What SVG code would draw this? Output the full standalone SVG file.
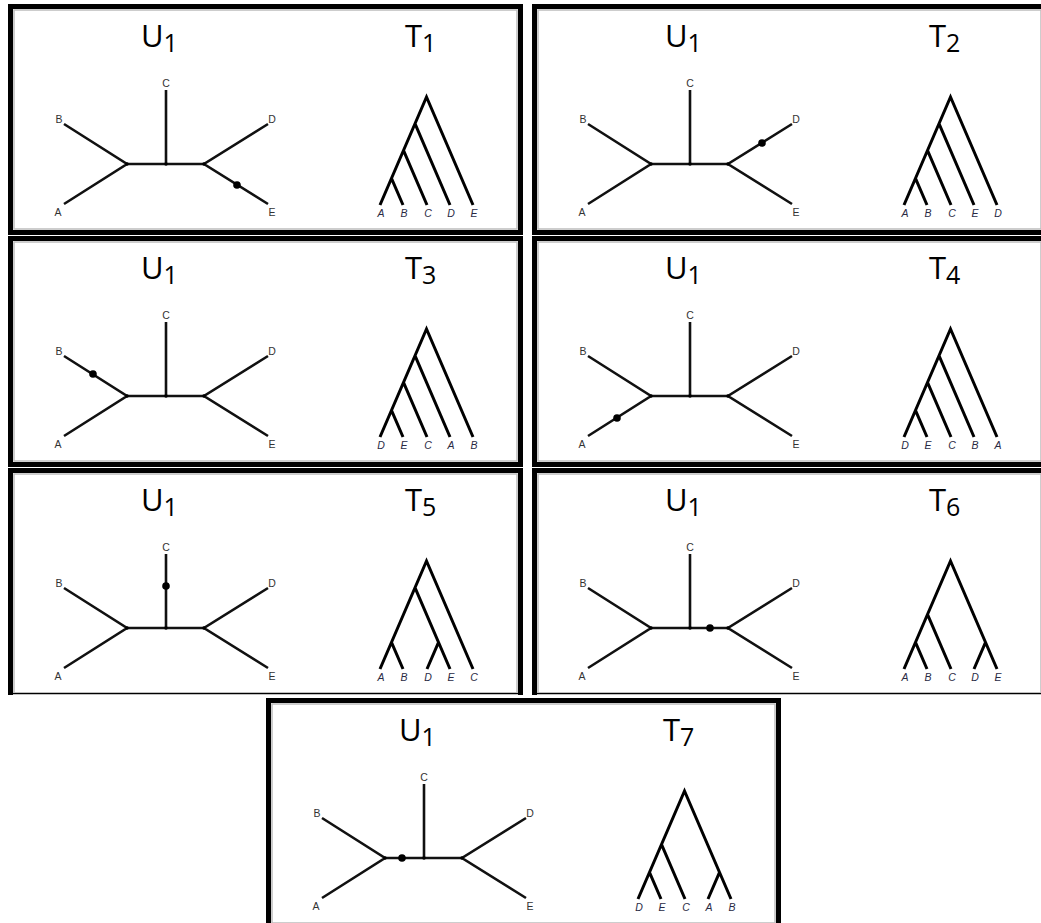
<svg xmlns="http://www.w3.org/2000/svg" width="1041" height="923" viewBox="0 0 1041 923">
<style>
.frame{fill:none;stroke:#000;stroke-width:5}
.inner{fill:none;stroke:#bdbdbd;stroke-width:1.5}
.ue{fill:none;stroke:#111;stroke-width:2.6;stroke-linejoin:miter}
.re{fill:none;stroke:#000;stroke-width:3;stroke-linejoin:miter}
.ul{font-family:"Liberation Sans",Arial,sans-serif;font-size:10.5px;fill:#333;text-anchor:middle}
.rl{font-family:"Liberation Sans",Arial,sans-serif;font-size:10.5px;font-style:italic;fill:#2a2a44;text-anchor:middle}
.title{font-family:"Open Sans",sans-serif;font-size:31px;fill:#000}
.dot{fill:#000}
</style>
<defs>
<g id="frame">
<rect class="frame" x="10.5" y="6.5" width="510" height="226"/>
<rect class="inner" x="14" y="10" width="503" height="219"/>
</g>
<g id="frame3">
<path class="frame" d="M10.5,231 V6.5 H520.5 V231"/>
<path d="M8,229.5 H523" stroke="#000" stroke-width="1.5"/>
<path class="inner" d="M14,229 V10 H517 V229"/>
</g>
<g id="utree">
<g class="connectors">
<path class="ue" d="M64,124 L127,164 L64,204"/>
<path class="ue" d="M127,164 H204"/>
<path class="ue" d="M268,124 L204,164 L268,204"/>
<path class="ue" d="M166,90 V164"/>
<circle class="dot" cx="127" cy="164" r="1.8"/>
<circle class="dot" cx="166" cy="164" r="1.8"/>
<circle class="dot" cx="204" cy="164" r="1.8"/>
</g>
<text class="ul" x="59" y="123">B</text>
<text class="ul" x="58" y="216">A</text>
<text class="ul" x="166" y="87">C</text>
<text class="ul" x="272" y="123">D</text>
<text class="ul" x="272" y="216">E</text>
</g>
<path id="cat" class="re" d="M380,205 L426.5,97 L473,205 M391.5,178.3 L403,205 M403.5,150.4 L427,205 M415,123.7 L450,205"/>
<path id="bal" class="re" d="M380,205 L426.5,97 L473,205 M391.5,178.3 L403,205 M403.5,150.4 L427,205 M461.5,178.3 L450,205"/>
</defs>
<rect width="1041" height="923" fill="#fff"/>

<g id="panel-T1">
<use href="#frame"/>
<text class="title" x="141" y="47">U<tspan dy="5" font-size="25">1</tspan></text>
<text class="title" x="405" y="47">T<tspan dy="5" font-size="25">1</tspan></text>
<g id="U1-a"><use href="#utree"/><circle class="dot" cx="237" cy="185" r="3.8"/></g>
<g id="T1-tree"><use href="#cat"/>
<text class="rl" x="381" y="217">A</text><text class="rl" x="404" y="217">B</text><text class="rl" x="428" y="217">C</text><text class="rl" x="451" y="217">D</text><text class="rl" x="474" y="217">E</text></g>
</g>

<g id="panel-T2" transform="translate(524,0)">
<use href="#frame"/>
<text class="title" x="141" y="47">U<tspan dy="5" font-size="25">1</tspan></text>
<text class="title" x="405" y="47">T<tspan dy="5" font-size="25">2</tspan></text>
<g id="U1-b"><use href="#utree"/><circle class="dot" cx="238" cy="143" r="3.8"/></g>
<g id="T2-tree"><use href="#cat"/>
<text class="rl" x="381" y="217">A</text><text class="rl" x="404" y="217">B</text><text class="rl" x="428" y="217">C</text><text class="rl" x="451" y="217">E</text><text class="rl" x="474" y="217">D</text></g>
</g>

<g id="panel-T3" transform="translate(0,232)">
<use href="#frame"/>
<text class="title" x="141" y="47">U<tspan dy="5" font-size="25">1</tspan></text>
<text class="title" x="405" y="47">T<tspan dy="5" font-size="25">3</tspan></text>
<g id="U1-c"><use href="#utree"/><circle class="dot" cx="93" cy="142" r="3.8"/></g>
<g id="T3-tree"><use href="#cat"/>
<text class="rl" x="381" y="217">D</text><text class="rl" x="404" y="217">E</text><text class="rl" x="428" y="217">C</text><text class="rl" x="451" y="217">A</text><text class="rl" x="474" y="217">B</text></g>
</g>

<g id="panel-T4" transform="translate(524,232)">
<use href="#frame"/>
<text class="title" x="141" y="47">U<tspan dy="5" font-size="25">1</tspan></text>
<text class="title" x="405" y="47">T<tspan dy="5" font-size="25">4</tspan></text>
<g id="U1-d"><use href="#utree"/><circle class="dot" cx="93" cy="186" r="3.8"/></g>
<g id="T4-tree"><use href="#cat"/>
<text class="rl" x="381" y="217">D</text><text class="rl" x="404" y="217">E</text><text class="rl" x="428" y="217">C</text><text class="rl" x="451" y="217">B</text><text class="rl" x="474" y="217">A</text></g>
</g>

<g id="panel-T5" transform="translate(0,464)">
<use href="#frame3"/>
<text class="title" x="141" y="47">U<tspan dy="5" font-size="25">1</tspan></text>
<text class="title" x="405" y="47">T<tspan dy="5" font-size="25">5</tspan></text>
<g id="U1-e"><use href="#utree"/><circle class="dot" cx="166" cy="122" r="3.8"/></g>
<g id="T5-tree"><path class="re" d="M380,205 L426.5,97 L473,205 M391.5,178.3 L403,205 M415,123.7 L450,205 M438.5,178.3 L427,205"/>
<text class="rl" x="381" y="217">A</text><text class="rl" x="404" y="217">B</text><text class="rl" x="428" y="217">D</text><text class="rl" x="451" y="217">E</text><text class="rl" x="474" y="217">C</text></g>
</g>

<g id="panel-T6" transform="translate(524,464)">
<use href="#frame3"/>
<text class="title" x="141" y="47">U<tspan dy="5" font-size="25">1</tspan></text>
<text class="title" x="405" y="47">T<tspan dy="5" font-size="25">6</tspan></text>
<g id="U1-f"><use href="#utree"/><circle class="dot" cx="186" cy="164" r="3.8"/></g>
<g id="T6-tree"><use href="#bal"/>
<text class="rl" x="381" y="217">A</text><text class="rl" x="404" y="217">B</text><text class="rl" x="428" y="217">C</text><text class="rl" x="451" y="217">D</text><text class="rl" x="474" y="217">E</text></g>
</g>

<g id="panel-T7" transform="translate(258,694)">
<use href="#frame"/>
<text class="title" x="141" y="47">U<tspan dy="5" font-size="25">1</tspan></text>
<text class="title" x="405" y="47">T<tspan dy="5" font-size="25">7</tspan></text>
<g id="U1-g"><use href="#utree"/><circle class="dot" cx="144" cy="164" r="3.8"/></g>
<g id="T7-tree"><use href="#bal"/>
<text class="rl" x="381" y="217">D</text><text class="rl" x="404" y="217">E</text><text class="rl" x="428" y="217">C</text><text class="rl" x="451" y="217">A</text><text class="rl" x="474" y="217">B</text></g>
</g>
</svg>
